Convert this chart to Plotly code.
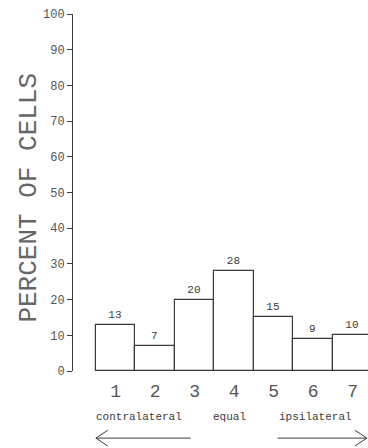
import plotly.graph_objects as go

categories = ["1", "2", "3", "4", "5", "6", "7"]
percent = [13, 7, 20, 28, 15, 9, 10]
y_ticks = [0, 10, 20, 30, 40, 50, 60, 70, 80, 90, 100]

FONT = "Liberation Mono"
INK = "#3a3a3a"

xpos = [int(c) for c in categories]

fig = go.Figure(go.Bar(
    x=xpos, y=percent,
    width=1.0,
    marker=dict(color="white", line=dict(color=INK, width=1.2)),
    text=[str(v) for v in percent],
    textposition="outside",
    textfont=dict(family=FONT, size=11, color=INK),
    cliponaxis=False,
))

fig.update_layout(
    width=368, height=448,
    margin=dict(l=73, r=0, t=14, b=77),
    paper_bgcolor="white", plot_bgcolor="white",
    showlegend=False,
    bargap=0,
    xaxis=dict(
        range=[-0.08, 7.39], tickmode="array", tickvals=xpos, ticktext=categories,
        showgrid=False, zeroline=False, showline=False,
        ticks="outside", ticklen=3, tickcolor="rgba(0,0,0,0)",
        tickfont=dict(family=FONT, size=18, color="#555"),
    ),
    yaxis=dict(
        range=[0, 100], tickmode="array", tickvals=y_ticks,
        showgrid=False, zeroline=False, showline=True, linecolor=INK, linewidth=1,
        ticks="outside", ticklen=5, tickcolor=INK,
        tickfont=dict(family=FONT, size=12, color="#555"),
    ),
)

fig.add_annotation(x=-0.15, y=0.485, xref="paper", yref="paper",
                   text="PERCENT OF CELLS", textangle=-90, showarrow=False,
                   xanchor="center", yanchor="middle",
                   font=dict(family=FONT, size=26, color="#666"))

labels = [("contralateral", 1.58), ("equal", 3.88), ("ipsilateral", 6.06)]
for txt, xc in labels:
    fig.add_annotation(x=xc, y=-0.129, xref="x", yref="paper", text=txt,
                       yanchor="middle", showarrow=False,
                       font=dict(family=FONT, size=11, color=INK))

ya = -0.188
dy = 0.022
dx = 0.3
# left arrow
fig.add_shape(type="path", xref="x", yref="paper",
              path=f"M 2.9,{ya} L 0.5,{ya} M {0.5+dx},{ya+dy} L 0.5,{ya} L {0.5+dx},{ya-dy}",
              line=dict(color=INK, width=1))
# right arrow
fig.add_shape(type="path", xref="x", yref="paper",
              path=f"M 5.1,{ya} L 7.36,{ya} M {7.36-dx},{ya+dy} L 7.36,{ya} L {7.36-dx},{ya-dy}",
              line=dict(color=INK, width=1))

fig.write_html("out.html")
